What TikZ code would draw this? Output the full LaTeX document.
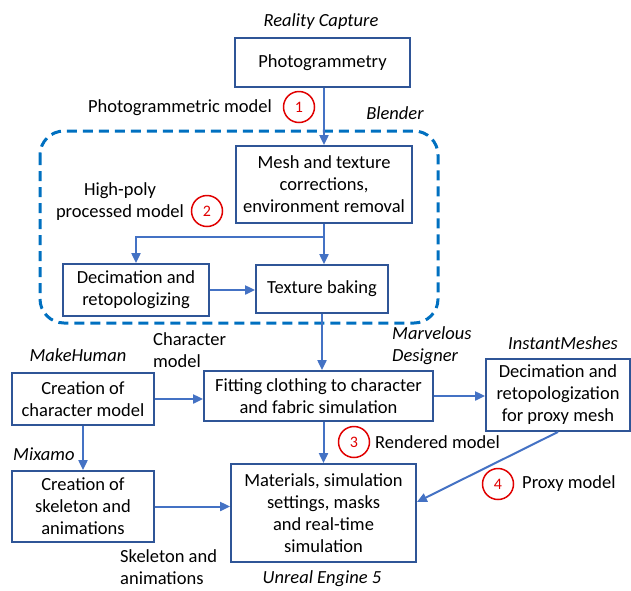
\documentclass[tikz,border=0pt]{standalone}
\usepackage{fontspec}
\setmainfont{Carlito}
\usepackage{xcolor}
\usepackage{tikz}
\usetikzlibrary{arrows.meta}
\definecolor{boxc}{HTML}{2F5597}
\definecolor{arc}{HTML}{4472C4}
\definecolor{dashc}{HTML}{0070C0}
\definecolor{redc}{HTML}{E00000}
\newcommand{\txtsz}{\fontsize{18.5}{22}\selectfont}
\tikzset{
  ar/.style={-{Triangle[length=10pt,width=9pt]},line width=2pt,arc},
  box/.style={draw=boxc,line width=1.8pt,align=center,inner sep=0pt,font=\txtsz},
  lbl/.style={inner sep=0pt,align=left,font=\txtsz},
  tool/.style={inner sep=0pt,align=left,font=\txtsz\itshape},
  num/.style={circle,draw=redc,line width=1.5pt,text=redc,minimum size=31pt,inner sep=0pt,font=\fontsize{16}{19}\selectfont}
}

\begin{document}
\begin{tikzpicture}[x=1pt,y=-1pt]
\useasboundingbox (0,0) rectangle (631,590);
% Blender group
\draw[dashc,line width=3pt,dash pattern=on 10pt off 6pt,rounded corners=24pt] (40,131) rectangle (438,323);
% blocks
\node[box,minimum width=175pt,minimum height=49pt] (photo) at (322.5,62.5) {Photogrammetry};
\node[box,minimum width=176pt,minimum height=77pt] (mesh) at (324,184.5) {Mesh and texture\\corrections,\\environment removal};
\node[box,minimum width=146pt,minimum height=52pt] (dec) at (136,290) {Decimation and\\retopologizing};
\node[box,minimum width=132pt,minimum height=48pt] (bake) at (322,289) {Texture baking};
\node[box,minimum width=229pt,minimum height=50pt] (fit) at (318.5,396) {Fitting clothing to character\\and fabric simulation};
\node[box,minimum width=142pt,minimum height=52pt] (char) at (83,399) {Creation of\\character model};
\node[box,minimum width=144pt,minimum height=72pt] (prox) at (558,395) {Decimation and\\retopologization\\for proxy mesh};
\node[box,minimum width=142pt,minimum height=71pt] (skel) at (83,506.5) {Creation of\\skeleton and\\animations};
\node[box,minimum width=185pt,minimum height=98pt] (mat) at (323.5,513) {Materials, simulation\\settings, masks\\and real-time\\simulation};
% tools
\node[tool] (rc) at (321,22) {Reality Capture};
\node[tool] (bl) at (395,113) {Blender};
\node[tool] (mh) at (78,355) {MakeHuman};
\node[tool,anchor=west] (md) at (392,346) {Marvelous\\Designer};
\node[tool] (im) at (563,343) {InstantMeshes};
\node[tool,anchor=west] (mx) at (13,454) {Mixamo};
\node[tool] (ue) at (322,579) {Unreal Engine 5};
% data labels
\node[lbl,anchor=east] (pm) at (272,108) {Photogrammetric model};
\node[lbl,align=center] (hp) at (120,202) {High-poly\\processed model};
\node[lbl,anchor=west] (cm) at (153,350.5) {Character\\model};
\node[lbl,anchor=west] (sa) at (120,567) {Skeleton and\\animations};
\node[lbl,anchor=west] (rm) at (375,442) {Rendered model};
\node[lbl,anchor=west] (px) at (522,484) {Proxy model};
\node[num] (n1) at (299,107) {1};
\node[num] (n2) at (207,211) {2};
\node[num] (n3) at (354,442) {3};
\node[num] (n4) at (498,484) {4};
% connectors
\coordinate (br) at (324,237);
\draw[ar] (photo.south -| mesh.north) -- (mesh.north);
\draw[ar] (mesh.south) -- (mesh.south |- bake.north);
\draw[ar] (br) -| (dec.north);
\draw[ar] (dec.east) -- (dec.east -| bake.west);
\draw[ar] (bake.south) -- (bake.south |- fit.north);
\draw[ar] (char.east) -- (char.east -| fit.west);
\draw[ar] (fit.east) -- (fit.east -| prox.west);
\draw[ar] (char.south) -- (skel.north);
\draw[ar] (skel.east) -- (skel.east -| mat.west);
\draw[ar] (fit.south -| mat.north) -- (mat.north);
\draw[ar] (prox.south) -- ([yshift=11pt]mat.east);
\end{tikzpicture}
\end{document}
